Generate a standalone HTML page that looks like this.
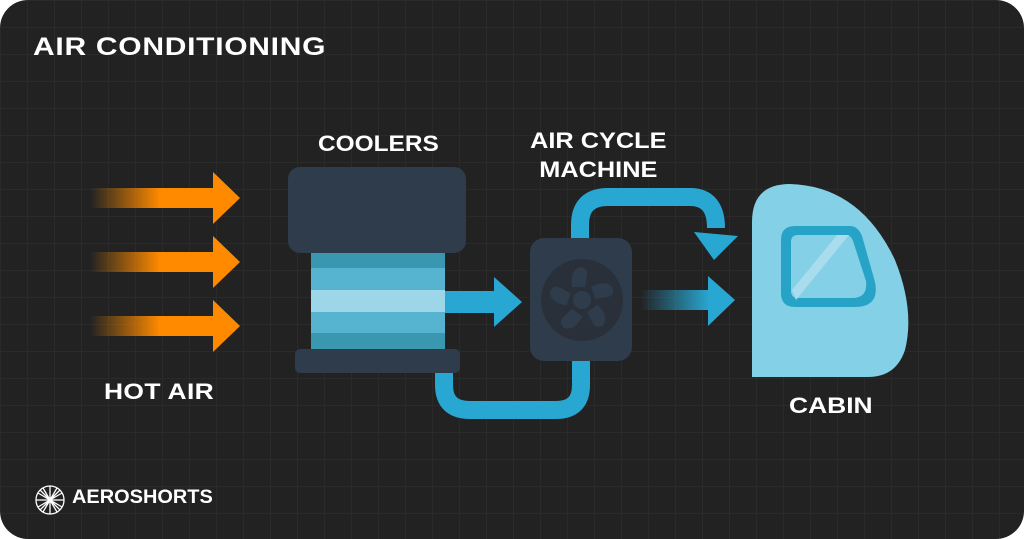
<!DOCTYPE html><html><head><style>
html,body{margin:0;padding:0;background:#fff}
#c{position:relative;width:1024px;height:539px;border-radius:28px;overflow:hidden;background-color:#222;
background-image:linear-gradient(#2a2a2a 1px,transparent 1px),linear-gradient(90deg,#2a2a2a 1px,transparent 1px);background-size:27px 27px;
font-family:"Liberation Sans",sans-serif;font-weight:bold;color:#fff}
.t{position:absolute;font-weight:900;white-space:nowrap;transform-origin:0 0;transform:scaleX(1.2)}
</style></head><body><div id="c">
<div class="t" style="left:33px;top:33px;font-size:25px;letter-spacing:0.6px">AIR CONDITIONING</div>
<div class="t" style="left:104px;top:379px;font-size:22px;letter-spacing:0.3px">HOT AIR</div>
<div class="t" style="left:318px;top:131px;font-size:22px;transform:scaleX(1.11)">COOLERS</div>
<div class="t" style="left:530px;top:126px;font-size:22px;line-height:29px;text-align:center;transform:none;width:136px"><span style="display:inline-block;transform:scaleX(1.15)">AIR CYCLE</span><br><span style="display:inline-block;transform:scaleX(1.15)">MACHINE</span></div>
<div class="t" style="left:789px;top:393px;font-size:22px">CABIN</div>
<div class="t" style="left:72px;top:487px;font-size:19px;transform:scaleX(1.05)">AEROSHORTS</div>
<svg width="1024" height="539" style="position:absolute;left:0;top:0">
<defs>
<linearGradient id="og" x1="90" x2="160" gradientUnits="userSpaceOnUse"><stop offset="0" stop-color="#ff8a00" stop-opacity="0"/><stop offset="1" stop-color="#ff8a00"/></linearGradient>
<linearGradient id="bg" x1="640" x2="710" gradientUnits="userSpaceOnUse"><stop offset="0" stop-color="#29a7d3" stop-opacity="0"/><stop offset="1" stop-color="#29a7d3"/></linearGradient>
</defs>
<g fill="url(#og)">
<path d="M90 188H213V172L240 198L213 224V208H90Z"/>
<path d="M90 252H213V236L240 262L213 288V272H90Z"/>
<path d="M90 316H213V300L240 326L213 352V336H90Z"/>
</g>
<g fill="none" stroke="#29a7d3" stroke-width="18">
<path d="M580 240V225Q580 197 608 197H690Q716 197 716 228"/>
<path d="M444 372V385Q444 410 470 410H556Q581 410 581 385V360"/>
</g>
<path d="M694 232L738 236L714 260Z" fill="#29a7d3"/>
<rect x="288" y="167" width="178" height="86" rx="12" fill="#2f3c4b"/>
<rect x="311" y="253" width="134" height="15" fill="#3a97b0"/>
<rect x="311" y="268" width="134" height="22" fill="#56b4d0"/>
<rect x="311" y="290" width="134" height="22" fill="#9dd6e8"/>
<rect x="311" y="312" width="134" height="21" fill="#56b4d0"/>
<rect x="311" y="333" width="134" height="16" fill="#3a97b0"/>
<rect x="295" y="349" width="165" height="24" rx="5" fill="#2f3c4b"/>
<path d="M445 291H494V277L522 302L494 327V313H445Z" fill="#29a7d3"/>
<rect x="530" y="238" width="102" height="123" rx="14" fill="#2f3c4b"/>
<circle cx="582" cy="300" r="41" fill="#2a303a"/>
<g fill="#2f3c4b"><circle cx="582" cy="300" r="9"/>
<g id="bl"><path d="M572 287Q570 270 580 267Q588 268 587 275L585 287Z"/></g>
<use href="#bl" transform="rotate(72 582 300)"/><use href="#bl" transform="rotate(144 582 300)"/><use href="#bl" transform="rotate(216 582 300)"/><use href="#bl" transform="rotate(288 582 300)"/></g>
<path d="M640 290H708V276L735 300L708 326V310H640Z" fill="url(#bg)"/>
<path d="M752 222Q752 184 790 184Q860 186 895 260Q915 310 905 350Q896 377 868 377H752Z" fill="#84d0e6"/>
<path d="M781 240Q781 226 795 226H850Q858 226 862 236L875 282Q880 307 855 307H795Q781 307 781 293Z" fill="#27a3c8"/>
<path d="M791 242Q791 235 798 235H846Q851 235 853 241L866 281Q868 298 852 298H798Q791 298 791 291Z" fill="#84d0e6"/>
<path d="M792 290L837 235H849L796 300Z" fill="#a9dcec"/>
<g stroke="#fff" fill="none" stroke-width="1.3"><circle cx="50" cy="500" r="14"/><path d="M40 490L60 510M60 490L40 510M50 486V514M36 500H64M43 488L57 512M57 488L43 512M38 493L62 507M62 493L38 507"/></g>
</svg>
</div></body></html>
